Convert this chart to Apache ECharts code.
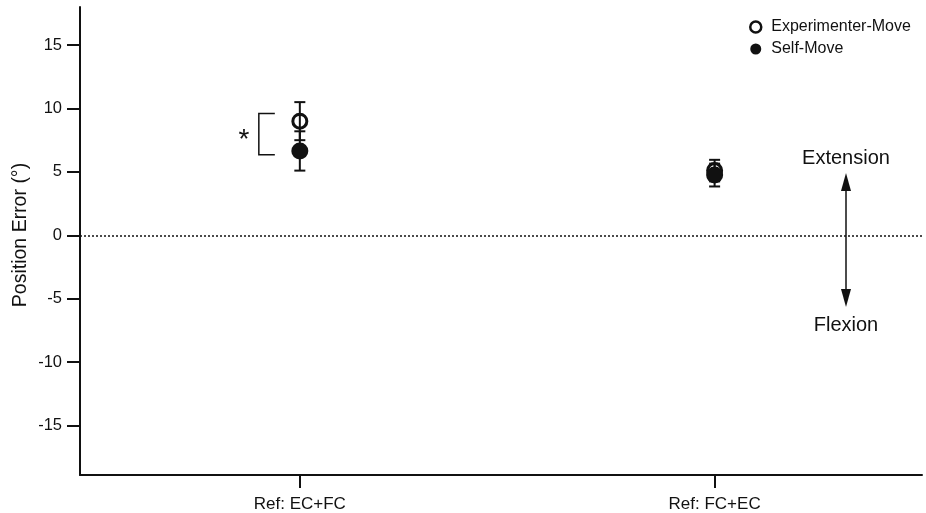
<!DOCTYPE html>
<html>
<head>
<meta charset="utf-8">
<script src="https://cdn.jsdelivr.net/npm/echarts@6/dist/echarts.min.js"></script>
<style>
  html, body { margin: 0; padding: 0; background: #fff; }
  #chart { width: 926px; height: 513px; }
</style>
</head>
<body>
<div id="chart"></div>
<script>
// Conditions on the x axis
const categories = ['Ref: EC+FC', 'Ref: FC+EC'];

// Mean position error (degrees) and error-bar half widths
const experimenterMean = [9.0, 5.1];
const experimenterErr = [1.5, 0.85];
const selfMean = [6.65, 4.75];
const selfErr = [1.55, 0.9];

// Y tick labels
const yTicks = [-15, -10, -5, 0, 5, 10, 15];

const INK = '#111';
const FONT = 'Liberation Sans, Arial, sans-serif';

const xPos = categories.map((_, i) => i + 1);
const points = (means) => means.map((m, i) => [xPos[i], m]);
const bars = (means, errs) => means.map((m, i) => [xPos[i], m - errs[i], m + errs[i]]);

function errorBarItem(params, api) {
  const x = api.value(0);
  const top = api.coord([x, api.value(2)]);
  const bot = api.coord([x, api.value(1)]);
  const hw = 5.5;
  const style = { stroke: INK, lineWidth: 2 };
  return {
    type: 'group',
    children: [
      { type: 'line', shape: { x1: top[0], y1: top[1], x2: bot[0], y2: bot[1] }, style },
      { type: 'line', shape: { x1: top[0] - hw, y1: top[1], x2: top[0] + hw, y2: top[1] }, style },
      { type: 'line', shape: { x1: bot[0] - hw, y1: bot[1], x2: bot[0] + hw, y2: bot[1] }, style }
    ]
  };
}

const chart = echarts.init(document.getElementById('chart'), null, { renderer: 'canvas' });

chart.setOption({
  animation: false,
  backgroundColor: '#fff',
  textStyle: { fontFamily: FONT, color: INK },
  grid: { left: 80, right: 4, top: 7, bottom: 37 },
  legend: {
    orient: 'vertical',
    left: 744,
    top: 12,
    itemWidth: 11,
    itemHeight: 11,
    itemGap: 2,
    selectedMode: false,
    textStyle: { fontFamily: FONT, fontSize: 16, color: INK, lineHeight: 20, padding: [0, 0, 0, 5] },
    data: [
      { name: 'Experimenter-Move', icon: 'circle', itemStyle: { color: '#fff', borderColor: INK, borderWidth: 2.5, opacity: 1 } },
      { name: 'Self-Move', icon: 'circle', itemStyle: { color: INK, borderWidth: 0, opacity: 1 } }
    ]
  },
  xAxis: {
    type: 'value',
    min: 0.47,
    max: 2.5,
    splitLine: { show: false },
    axisLine: { show: true, onZero: false, lineStyle: { color: INK, width: 2 } },
    axisTick: { show: true, customValues: xPos, length: 13, lineStyle: { color: INK, width: 2 } },
    axisLabel: {
      customValues: xPos,
      margin: 21,
      fontSize: 17,
      fontFamily: FONT,
      color: INK,
      formatter: (v) => categories[Math.round(v) - 1] || ''
    }
  },
  yAxis: {
    type: 'value',
    min: -18.9,
    max: 18,
    splitLine: { show: false },
    axisLine: { show: true, onZero: false, lineStyle: { color: INK, width: 2 } },
    axisTick: { show: true, customValues: yTicks, length: 13, lineStyle: { color: INK, width: 2 } },
    axisLabel: { customValues: yTicks, margin: 18, fontSize: 16.5, fontFamily: FONT, color: INK }
  },
  series: [
    {
      name: 'Experimenter-Move error',
      type: 'custom',
      renderItem: errorBarItem,
      data: bars(experimenterMean, experimenterErr),
      z: 2,
      markLine: {
        silent: true,
        symbol: 'none',
        label: { show: false },
        lineStyle: { color: INK, width: 1.5, type: [2, 2] },
        data: [{ yAxis: 0 }]
      }
    },
    {
      name: 'Experimenter-Move',
      type: 'scatter',
      symbol: 'circle',
      symbolSize: 14,
      itemStyle: { color: 'rgba(255,255,255,0)', borderColor: INK, borderWidth: 3, opacity: 1 },
      data: points(experimenterMean),
      z: 3
    },
    {
      name: 'Self-Move error',
      type: 'custom',
      renderItem: errorBarItem,
      data: bars(selfMean, selfErr),
      z: 4
    },
    {
      name: 'Self-Move',
      type: 'scatter',
      symbol: 'circle',
      symbolSize: 17,
      itemStyle: { color: INK, borderWidth: 0, opacity: 1 },
      data: points(selfMean),
      z: 5
    }
  ]
});

// Axis title, significance bracket beside the first condition, and the direction arrow
const p = (x, y) => chart.convertToPixel({ gridIndex: 0 }, [x, y]);
const bTop = p(xPos[0], 9.6);
const bBot = p(xPos[0], 6.35);
const bx = bTop[0] - 41;
const bEnd = bTop[0] - 25;
const bracketStyle = { stroke: INK, lineWidth: 1.5, fill: null };

const arrowX = 846;
const arrowTop = 173;
const arrowBot = 307;
const headLen = 18;
const headHalf = 5;

chart.setOption({
  graphic: [
    {
      type: 'text',
      x: 21,
      y: 235,
      rotation: Math.PI / 2,
      style: { text: 'Position Error (°)', font: '19.5px ' + FONT, fill: INK, align: 'center', verticalAlign: 'middle' },
      z: 10
    },
    {
      type: 'polyline',
      shape: { points: [[bEnd, bTop[1]], [bx, bTop[1]], [bx, bBot[1]], [bEnd, bBot[1]]] },
      style: bracketStyle,
      z: 10
    },
    {
      type: 'text',
      x: bx - 15,
      y: (bTop[1] + bBot[1]) / 2 + 6,
      style: { text: '*', font: '28px ' + FONT, fill: INK, align: 'center', verticalAlign: 'middle' },
      z: 10
    },
    {
      type: 'line',
      shape: { x1: arrowX, y1: arrowTop + headLen - 2, x2: arrowX, y2: arrowBot - headLen + 2 },
      style: { stroke: INK, lineWidth: 1.5 },
      z: 10
    },
    {
      type: 'polygon',
      shape: { points: [[arrowX, arrowTop], [arrowX - headHalf, arrowTop + headLen], [arrowX + headHalf, arrowTop + headLen]] },
      style: { fill: INK },
      z: 10
    },
    {
      type: 'polygon',
      shape: { points: [[arrowX, arrowBot], [arrowX - headHalf, arrowBot - headLen], [arrowX + headHalf, arrowBot - headLen]] },
      style: { fill: INK },
      z: 10
    },
    {
      type: 'text',
      x: arrowX,
      y: 158,
      style: { text: 'Extension', font: '20px ' + FONT, fill: INK, align: 'center', verticalAlign: 'middle' },
      z: 10
    },
    {
      type: 'text',
      x: arrowX,
      y: 325,
      style: { text: 'Flexion', font: '20px ' + FONT, fill: INK, align: 'center', verticalAlign: 'middle' },
      z: 10
    }
  ]
});
</script>
</body>
</html>
